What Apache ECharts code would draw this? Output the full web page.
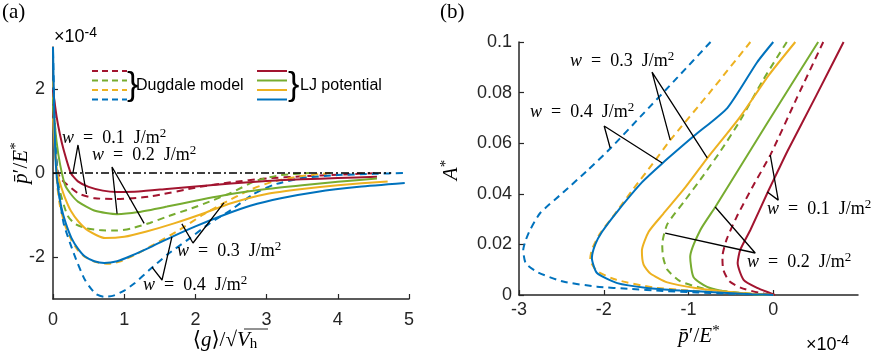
<!DOCTYPE html>
<html>
<head>
<meta charset="utf-8">
<script src="https://cdn.jsdelivr.net/npm/echarts@6/dist/echarts.min.js"></script>
<style>html,body{margin:0;padding:0;background:#fff}#chart{width:872px;height:355px}</style>
</head>
<body>
<div id="chart"></div>
<script>
// ---- panel (a): p'/E* (x1e-4) vs <g>/sqrt(Vh) ----
const lj01_x = [0, 0.05, 0.1, 0.15, 0.25, 0.35, 0.5, 0.7, 0.9, 1.2, 1.6, 2, 2.5, 3, 3.5, 4, 4.55];
const lj01_y = [1.98, 1.35, 0.9, 0.55, 0.0, -0.2, -0.33, -0.42, -0.45, -0.44, -0.38, -0.32, -0.25, -0.19, -0.15, -0.12, -0.09];
const lj02_x = [0, 0.05, 0.1, 0.17, 0.25, 0.35, 0.59, 0.9, 1.2, 1.6, 2, 2.5, 3, 3.5, 4, 4.55];
const lj02_y = [1.6, 0.75, 0.2, -0.29, -0.5, -0.68, -0.9, -0.98, -0.93, -0.8, -0.66, -0.5, -0.38, -0.29, -0.21, -0.13];
const lj03_x = [0, 0.03, 0.06, 0.1, 0.17, 0.25, 0.36, 0.5, 0.73, 1, 1.3, 1.7, 2.1, 2.5, 3, 3.5, 4, 4.7];
const lj03_y = [1.3, 0.5, 0, -0.25, -0.6, -0.9, -1.16, -1.38, -1.55, -1.52, -1.4, -1.2, -0.97, -0.72, -0.5, -0.38, -0.29, -0.2];
const lj04_x = [0, 0.02, 0.04, 0.07, 0.12, 0.18, 0.26, 0.35, 0.45, 0.58, 0.72, 0.9, 1.1, 1.4, 1.67, 2, 2.4, 2.77, 3.2, 3.7, 4.3, 4.94];
const lj04_y = [3, 1.2, 0.2, -0.35, -0.84, -1.2, -1.55, -1.8, -1.99, -2.1, -2.14, -2.1, -1.97, -1.74, -1.52, -1.27, -1.0, -0.78, -0.6, -0.45, -0.33, -0.24];

const dug01_x = [0, 0.03, 0.07, 0.12, 0.2, 0.36, 0.59, 0.88, 1.36, 2.06, 2.5, 3, 3.5, 4, 4.6];
const dug01_y = [1.5, 0.6, 0, -0.15, -0.28, -0.49, -0.6, -0.62, -0.56, -0.33, -0.22, -0.13, -0.08, -0.04, 0];
const dug02_x = [0, 0.03, 0.08, 0.2, 0.3, 0.45, 0.65, 0.9, 1.1, 1.36, 1.6, 1.95, 2.2, 2.49, 2.86, 3.2, 3.6];
const dug02_y = [1.8, 0.7, -0.3, -1.0, -1.2, -1.31, -1.36, -1.37, -1.32, -1.19, -1.04, -0.84, -0.68, -0.48, -0.18, -0.05, 0];
const dug03_x = [0, 0.03, 0.06, 0.1, 0.17, 0.26, 0.35, 0.45, 0.6, 0.78, 0.95, 1.15, 1.4, 1.78, 2.1, 2.35, 2.77, 3.1, 3.5, 3.9];
const dug03_y = [2.2, 0.6, -0.3, -0.8, -1.25, -1.6, -1.84, -2.0, -2.12, -2.16, -2.1, -1.95, -1.72, -1.35, -1.0, -0.76, -0.4, -0.2, -0.07, 0];
const dug04_x = [0, 0.02, 0.05, 0.08, 0.15, 0.3, 0.45, 0.6, 0.72, 0.85, 1.0, 1.15, 1.36, 1.6, 1.9, 2.2, 2.5, 2.8, 3.1, 3.5, 4, 4.5, 4.95];
const dug04_y = [2.9, 1.5, 0.3, -0.4, -1.2, -1.95, -2.55, -2.88, -2.95, -2.92, -2.8, -2.62, -2.3, -1.95, -1.58, -1.2, -0.88, -0.52, -0.28, -0.12, -0.05, -0.02, 0];

const zero_x = [0, 4.75];
const zero_y = [0, 0];

// ---- panel (b): A* vs p'/E* (x1e-4) ----
const bLj01_x = [0.83, 0.51, 0.17, 0.06, -0.06, -0.27, -0.39, -0.42, -0.35, -0.19, -0.04, 0.02];
const bLj01_a = [0.1, 0.079, 0.057, 0.0494, 0.041, 0.0257, 0.0178, 0.0126, 0.006, 0.0028, 0.0008, 0];
const bLj02_x = [0.53, -0.07, -0.68, -0.86, -0.98, -0.94, -0.78, -0.54, -0.25, 0];
const bLj02_a = [0.1, 0.068, 0.035, 0.0257, 0.015, 0.007, 0.0032, 0.0012, 0.0003, 0];
const bLj03_x = [0.26, -0.05, -0.4, -0.78, -1.05, -1.3, -1.47, -1.55, -1.53, -1.45, -1.25, -0.9, -0.5, -0.2, 0];
const bLj03_a = [0.1, 0.087, 0.07, 0.054, 0.042, 0.032, 0.025, 0.0175, 0.012, 0.0085, 0.005, 0.0027, 0.0012, 0.0004, 0];
const bLj04_x = [0, -0.19, -0.54, -0.93, -1.31, -1.55, -1.84, -2.02, -2.1, -2.14, -2.08, -1.84, -1.49, -1.1, -0.6, -0.25, 0];
const bLj04_a = [0.1, 0.092, 0.074, 0.063, 0.052, 0.0445, 0.033, 0.025, 0.02, 0.0146, 0.0087, 0.0047, 0.0028, 0.0018, 0.0009, 0.0003, 0];

const bDug01_x = [0.59, 0.28, -0.035, -0.24, -0.43, -0.55, -0.6, -0.59, -0.52, -0.38, -0.17, 0];
const bDug01_a = [0.1, 0.078, 0.0553, 0.043, 0.031, 0.022, 0.0151, 0.01, 0.0055, 0.0028, 0.0009, 0];
const bDug02_x = [0.16, -0.12, -0.39, -0.62, -0.83, -1.05, -1.25, -1.31, -1.3, -1.25, -1.1, -0.85, -0.5, -0.2, 0];
const bDug02_a = [0.1, 0.085, 0.069, 0.057, 0.047, 0.037, 0.028, 0.02, 0.015, 0.01, 0.0055, 0.0028, 0.0012, 0.0004, 0];
const bDug03_x = [-0.27, -0.75, -1.22, -1.42, -1.65, -1.87, -2.05, -2.14, -2.16, -2.08, -1.85, -1.42, -1.0, -0.55, -0.2, 0];
const bDug03_a = [0.1, 0.08, 0.061, 0.052, 0.042, 0.032, 0.024, 0.018, 0.014, 0.0095, 0.006, 0.003, 0.0018, 0.0008, 0.0002, 0];
const bDug04_x = [-0.74, -1.13, -1.57, -1.92, -2.2, -2.48, -2.75, -2.87, -2.92, -2.95, -2.92, -2.78, -2.48, -2.08, -1.69, -1.3, -0.9, -0.5, -0.2, 0];
const bDug04_a = [0.1, 0.086, 0.0704, 0.058, 0.049, 0.0405, 0.0324, 0.0257, 0.0217, 0.0178, 0.0125, 0.009, 0.0053, 0.0033, 0.0024, 0.0016, 0.001, 0.0005, 0.0002, 0];

// annotation pointers (leg end, apex, leg end) in data units
const ptrA01 = [[0.28, 0], [0.351, 0.667], [0.47, -0.5]];
const ptrA02 = [[0.9, -0.97], [0.829, 0.143], [1.28, -1.2]];
const ptrA03 = [[1.81, -1.21], [1.966, -1.667], [2.4, -0.71]];
const ptrA04 = [[1.39, -2.24], [1.531, -2.548], [1.67, -1.52]];
const ptrB01 = [[-0.035, 0.0553], [0.059, 0.0375], [-0.07, 0.0407]];
const ptrB02 = [[-0.685, 0.0348], [-0.2125, 0.0166], [-1.275, 0.0245]];
const ptrB03 = [[-1.216, 0.0613], [-1.43, 0.0881], [-0.779, 0.0542]];
const ptrB04 = [[-1.924, 0.0581], [-1.995, 0.0668], [-1.31, 0.0522]];

const aYTicks = [-2, 0, 2];
const bXTicks = [-3, -2, -1, 0];

const C_BLUE = '#0072BD', C_RED = '#A2142F', C_YEL = '#EDB120', C_GRN = '#77AC30';
const AXIS_COLOR = '#262626';
const SANS = "'Liberation Sans', Arial, sans-serif";
const SERIF = "'Liberation Serif', 'DejaVu Serif', serif";
const DASH = [7, 5];
const EN = '\u2002';

function zip(xs, ys) { return xs.map(function (x, i) { return [x, ys[i]]; }); }

function curve(xs, ys, color, dashed, idx) {
    return {
        type: 'line', xAxisIndex: idx, yAxisIndex: idx,
        data: zip(xs, ys), symbol: 'none', smooth: 0.2, silent: true, z: dashed ? 3 : 4,
        lineStyle: {color: color, width: 2, type: dashed ? DASH : 'solid'}
    };
}

function pointer(pts, idx) {
    return {
        type: 'line', xAxisIndex: idx, yAxisIndex: idx, data: pts, symbol: 'none', silent: true, z: 6,
        lineStyle: {color: '#000', width: 1.3}
    };
}

function axisBase(margin) {
    return {
        axisLine: {show: true, onZero: false, lineStyle: {color: AXIS_COLOR, width: 1.5}},
        axisTick: {show: true, inside: true, length: 5, lineStyle: {color: AXIS_COLOR, width: 1.2}},
        axisLabel: {color: AXIS_COLOR, fontFamily: SANS, fontSize: 18, margin: margin},
        splitLine: {show: false}
    };
}

const RICH = {
    i: {fontFamily: SERIF, fontStyle: 'italic', fontSize: 18, lineHeight: 22, color: '#000'},
    n: {fontFamily: SERIF, fontSize: 18, lineHeight: 22, color: '#000'},
    s: {fontFamily: SERIF, fontSize: 13, lineHeight: 13, verticalAlign: 'top', color: '#000'},
    I: {fontFamily: SERIF, fontStyle: 'italic', fontSize: 21, lineHeight: 24, color: AXIS_COLOR},
    N: {fontFamily: SERIF, fontSize: 21, lineHeight: 24, color: AXIS_COLOR},
    S: {fontFamily: SERIF, fontSize: 15, lineHeight: 14, verticalAlign: 'top', color: AXIS_COLOR},
    B: {fontFamily: SERIF, fontSize: 15, lineHeight: 8, verticalAlign: 'bottom', color: AXIS_COLOR},
    sn: {fontFamily: SANS, fontSize: 18, lineHeight: 22, color: AXIS_COLOR},
    ss: {fontFamily: SANS, fontSize: 14, lineHeight: 13, verticalAlign: 'top', color: AXIS_COLOR}
};

function label(x, y, txt, align, rot) {
    return {
        type: 'text', x: x, y: y, rotation: rot || 0, z: 10,
        style: {text: txt, rich: RICH, align: align || 'left', verticalAlign: 'middle'}
    };
}

function wLabel(x, y, w) { return label(x, y, '{i|w}{n|' + EN + '=' + EN + w + EN + 'J/m}{s|2}'); }

const chart = echarts.init(document.getElementById('chart'), null, {renderer: 'canvas'});

const xA = Object.assign(axisBase(12), {type: 'value', gridIndex: 0, min: 0, max: 5, interval: 1});
const yA = Object.assign(axisBase(8), {type: 'value', gridIndex: 0, min: -3, max: 3, interval: 1});
yA.axisLabel.customValues = aYTicks;
yA.axisTick.customValues = aYTicks;
const xB = Object.assign(axisBase(6), {type: 'value', gridIndex: 1, min: -3, max: 1, interval: 1});
xB.axisLabel.customValues = bXTicks;
xB.axisTick.customValues = bXTicks;
const yB = Object.assign(axisBase(7), {type: 'value', gridIndex: 1, min: 0, max: 0.1, interval: 0.02});

const series = [
    curve(dug01_x, dug01_y, C_RED, true, 0),
    curve(dug02_x, dug02_y, C_GRN, true, 0),
    curve(dug03_x, dug03_y, C_YEL, true, 0),
    curve(dug04_x, dug04_y, C_BLUE, true, 0),
    curve(lj01_x, lj01_y, C_RED, false, 0),
    curve(lj02_x, lj02_y, C_GRN, false, 0),
    curve(lj03_x, lj03_y, C_YEL, false, 0),
    curve(lj04_x, lj04_y, C_BLUE, false, 0),
    {
        type: 'line', xAxisIndex: 0, yAxisIndex: 0, data: zip(zero_x, zero_y), symbol: 'none', silent: true, z: 5,
        lineStyle: {color: '#000', width: 1.5, type: [8, 3, 2, 3]}
    },
    curve(bDug01_x, bDug01_a, C_RED, true, 1),
    curve(bDug02_x, bDug02_a, C_GRN, true, 1),
    curve(bDug03_x, bDug03_a, C_YEL, true, 1),
    curve(bDug04_x, bDug04_a, C_BLUE, true, 1),
    curve(bLj01_x, bLj01_a, C_RED, false, 1),
    curve(bLj02_x, bLj02_a, C_GRN, false, 1),
    curve(bLj03_x, bLj03_a, C_YEL, false, 1),
    curve(bLj04_x, bLj04_a, C_BLUE, false, 1),
    pointer(ptrA01, 0), pointer(ptrA02, 0), pointer(ptrA03, 0), pointer(ptrA04, 0),
    pointer(ptrB01, 1), pointer(ptrB02, 1), pointer(ptrB03, 1), pointer(ptrB04, 1)
];

// legend: dashed (Dugdale) and solid (LJ) swatches with braces
const legendColors = [C_RED, C_GRN, C_YEL, C_BLUE];
const legendRows = [71, 80.5, 90, 99.5];
const graphics = [];
legendColors.forEach(function (c, i) {
    graphics.push({type: 'line', z: 10, shape: {x1: 92, y1: legendRows[i], x2: 127, y2: legendRows[i]},
        style: {stroke: c, lineWidth: 2, lineDash: [6, 4]}});
    graphics.push({type: 'line', z: 10, shape: {x1: 257, y1: legendRows[i], x2: 287, y2: legendRows[i]},
        style: {stroke: c, lineWidth: 2}});
});
graphics.push(
    {type: 'text', x: 127, y: 86, z: 10, style: {text: '}', fontFamily: SANS, fontSize: 34, fill: '#000', verticalAlign: 'middle'}},
    {type: 'text', x: 136, y: 86, z: 10, style: {text: 'Dugdale model', fontFamily: SANS, fontSize: 16, fill: '#000', verticalAlign: 'middle'}},
    {type: 'text', x: 288, y: 86, z: 10, style: {text: '}', fontFamily: SANS, fontSize: 34, fill: '#000', verticalAlign: 'middle'}},
    {type: 'text', x: 300, y: 86, z: 10, style: {text: 'LJ potential', fontFamily: SANS, fontSize: 16, fill: '#000', verticalAlign: 'middle'}},
    label(2, 12, '{N|(a)}'),
    label(440, 12, '{N|(b)}'),
    label(54, 37, '{sn|×10}{ss|-4}'),
    label(806, 345, '{sn|×10}{ss|-4}'),
    label(21, 163, '{I|p\u0304}{N|\u2032/}{I|E}{S|*}', 'center', Math.PI / 2),
    label(225, 340, '{N|\u27E8}{I|g}{N|\u27E9/\u221A}{I|V}{B|h}', 'center'),
    {type: 'line', z: 10, shape: {x1: 244, y1: 329, x2: 268, y2: 329}, style: {stroke: AXIS_COLOR, lineWidth: 1}},
    label(699, 336, '{I|p\u0304}{N|\u2032/}{I|E}{S|*}', 'center'),
    label(451, 170, '{I|A}{S|*}', 'center', Math.PI / 2),
    wLabel(62, 138, '0.1'),
    wLabel(92, 155, '0.2'),
    wLabel(177, 251, '0.3'),
    wLabel(143, 285, '0.4'),
    wLabel(570, 61, '0.3'),
    wLabel(530, 112, '0.4'),
    wLabel(767, 209, '0.1'),
    wLabel(747, 262, '0.2')
);

chart.setOption({
    animation: false,
    backgroundColor: '#fff',
    grid: [
        {left: 53, top: 47, width: 356, height: 252, outerBoundsMode: 'none'},
        {left: 519, top: 42, width: 339, height: 253, outerBoundsMode: 'none'}
    ],
    xAxis: [xA, xB],
    yAxis: [yA, yB],
    series: series,
    graphic: graphics
});

window.addEventListener('resize', function () { chart.resize(); });
</script>
</body>
</html>
